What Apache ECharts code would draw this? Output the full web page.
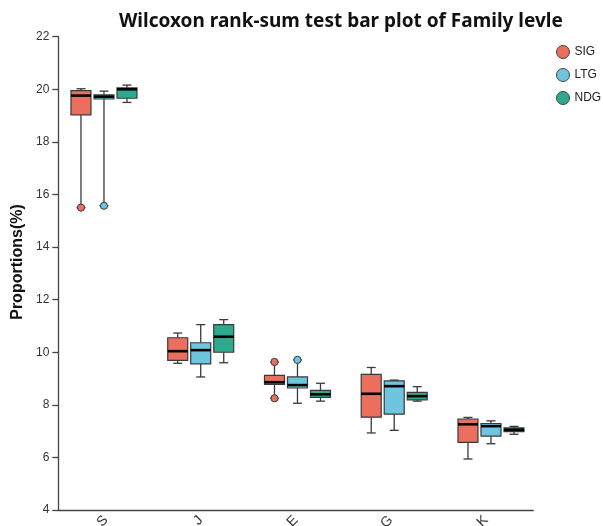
<!DOCTYPE html>
<html>
<head>
<meta charset="utf-8">
<script src="https://cdn.jsdelivr.net/npm/echarts@6/dist/echarts.min.js"></script>
<style>
html,body{margin:0;padding:0;background:#fff;}
#chart{width:603px;height:526px;}
</style>
</head>
<body>
<div id="chart"></div>
<script>
const categories = ['S', 'J', 'E', 'G', 'K'];
const groupNames = ['SIG', 'LTG', 'NDG'];
const yTicks = { min: 4, max: 22, interval: 2 };
const yAxisTitle = 'Proportions(%)';
// [min, Q1, median, Q3, max] per category
const sigBox = [[15.5, 19.03, 19.76, 19.95, 20.02], [9.58, 9.69, 10.04, 10.55, 10.73], [8.25, 8.78, 8.86, 9.12, 9.63], [6.93, 7.53, 8.42, 9.16, 9.42], [5.94, 6.57, 7.26, 7.46, 7.52]];
const ltgBox = [[15.57, 19.63, 19.72, 19.79, 19.93], [9.06, 9.56, 10.08, 10.36, 11.05], [8.06, 8.64, 8.75, 9.06, 9.71], [7.03, 7.65, 8.71, 8.91, 8.94], [6.52, 6.81, 7.19, 7.29, 7.39]];
const ndgBox = [[19.5, 19.66, 20.0, 20.05, 20.16], [9.6, 10.0, 10.59, 11.05, 11.24], [8.14, 8.28, 8.40, 8.55, 8.82], [8.14, 8.19, 8.33, 8.47, 8.69], [6.88, 6.98, 7.05, 7.12, 7.18]];
// [categoryIndex, value]
const sigOutliers = [[0, 15.5], [2, 9.63], [2, 8.25]];
const ltgOutliers = [[0, 15.57], [2, 9.71]];
const ndgOutliers = [];

const colors = ['#EA6F5E', '#6DC5DF', '#2DAA8E'];
const offsets = [-23, 0, 23];
const edge = '#3a3a3a';

function boxRender(offset, color) {
  return function (params, api) {
    const i = api.value(0);
    const pMin = api.coord([i, api.value(1)]);
    const pQ1 = api.coord([i, api.value(2)]);
    const pMed = api.coord([i, api.value(3)]);
    const pQ3 = api.coord([i, api.value(4)]);
    const pMax = api.coord([i, api.value(5)]);
    const cx = pMin[0] + offset;
    const hw = 10, cw = 4.5;
    const ls = { stroke: edge, lineWidth: 1.3 };
    return {
      type: 'group',
      children: [
        { type: 'line', shape: { x1: cx, y1: pQ3[1], x2: cx, y2: pMax[1] }, style: ls },
        { type: 'line', shape: { x1: cx, y1: pQ1[1], x2: cx, y2: pMin[1] }, style: ls },
        { type: 'line', shape: { x1: cx - cw, y1: pMax[1], x2: cx + cw, y2: pMax[1] }, style: ls },
        { type: 'line', shape: { x1: cx - cw, y1: pMin[1], x2: cx + cw, y2: pMin[1] }, style: ls },
        { type: 'rect', shape: { x: cx - hw, y: pQ3[1], width: hw * 2, height: pQ1[1] - pQ3[1] },
          style: { fill: color, stroke: edge, lineWidth: 1.2 } },
        { type: 'line', shape: { x1: cx - hw, y1: pMed[1], x2: cx + hw, y2: pMed[1] },
          style: { stroke: '#000', lineWidth: 2.6 } }
      ]
    };
  };
}
function outRender(offset, color) {
  return function (params, api) {
    const p = api.coord([api.value(0), api.value(1)]);
    return { type: 'circle', shape: { cx: p[0] + offset, cy: p[1], r: 3.6 },
      style: { fill: color, stroke: edge, lineWidth: 1 } };
  };
}

const boxes = [sigBox, ltgBox, ndgBox];
const outs = [sigOutliers, ltgOutliers, ndgOutliers];
const series = [];
groupNames.forEach(function (name, g) {
  series.push({
    name: name, type: 'custom', xAxisIndex: 1, yAxisIndex: 1,
    itemStyle: { color: colors[g] },
    renderItem: boxRender(offsets[g], colors[g]),
    encode: { x: 0, y: [1, 2, 3, 4, 5] },
    data: boxes[g].map(function (b, i) { return [i].concat(b); })
  });
});
groupNames.forEach(function (name, g) {
  series.push({
    name: name, type: 'custom', xAxisIndex: 1, yAxisIndex: 1, z: 5,
    itemStyle: { color: colors[g] },
    renderItem: outRender(offsets[g], colors[g]),
    encode: { x: 0, y: 1 },
    data: outs[g]
  });
});

const chart = echarts.init(document.getElementById('chart'), null, { renderer: 'canvas' });
chart.setOption({
  backgroundColor: '#fff',
  animation: false,
  title: {
    text: 'Wilcoxon rank-sum test bar plot of Family levle',
    left: 114, top: 7,
    textStyle: { fontFamily: 'Noto Sans', fontSize: 19, fontWeight: 'bold', color: '#111' }
  },
  legend: {
    orient: 'vertical', left: 556, top: 45,
    itemWidth: 13, itemHeight: 13, itemGap: 9, padding: 0,
    icon: 'circle',
    itemStyle: { borderColor: '#444', borderWidth: 1 },
    textStyle: { fontFamily: 'Liberation Sans', fontSize: 12, color: '#222' },
    data: groupNames
  },
  graphic: [{
    type: 'text', x: 18, y: 262, rotation: Math.PI / 2,
    style: { text: yAxisTitle, align: 'center', verticalAlign: 'middle',
      font: 'bold 16px "Liberation Sans"', fill: '#111' }
  }],
  grid: [
    { left: 58.3, right: 69.7, top: 36.7, bottom: 16, outerBoundsMode: 'none' },
    { left: 55.6, right: 63.65, top: 36.7, bottom: 16, outerBoundsMode: 'none' }
  ],
  xAxis: [
    {
      type: 'category', gridIndex: 0, data: categories, boundaryGap: true,
      axisLine: { lineStyle: { color: '#444', width: 1.3 } },
      axisTick: { alignWithLabel: true, length: 5, lineStyle: { color: '#444', width: 1.3 } },
      axisLabel: { rotate: 45, margin: 8, fontSize: 14, color: '#333', fontFamily: 'Liberation Sans' }
    },
    { type: 'category', gridIndex: 1, data: categories, show: false }
  ],
  yAxis: [
    {
      type: 'value', gridIndex: 0, min: yTicks.min, max: yTicks.max, interval: yTicks.interval,
      axisLine: { show: true, lineStyle: { color: '#444', width: 1.3 } },
      axisTick: { show: true, length: 6, lineStyle: { color: '#444', width: 1.3 } },
      splitLine: { show: false },
      axisLabel: { margin: 9, fontSize: 12, color: '#333', fontFamily: 'Liberation Sans' }
    },
    { type: 'value', gridIndex: 1, min: yTicks.min, max: yTicks.max, show: false, splitLine: { show: false } }
  ],
  series: series
});
</script>
</body>
</html>
